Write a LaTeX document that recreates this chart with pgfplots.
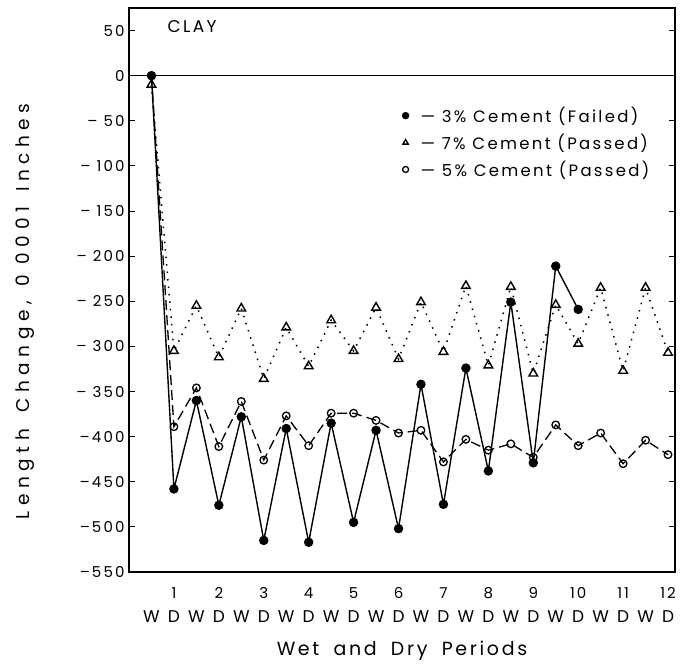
\documentclass[border=0pt]{standalone}
\usepackage{fontspec}
\setmainfont[LetterSpace=14]{Poppins}
\newfontfamily\wideletter[LetterSpace=30]{Poppins}
\usepackage{pgfplots}
\pgfplotsset{compat=1.18}
\usepackage{pgfplotstable}

% Length change of clay-cement specimens over wet/dry cycles (0.0001 in)
\pgfplotstableread{
x y
0.5 0
1 -458
1.5 -360
2 -476
2.5 -378
3 -515
3.5 -391
4 -517
4.5 -385
5 -495
5.5 -393
6 -502
6.5 -342
7 -475
7.5 -324
8 -438
8.5 -251
9 -429
9.5 -211
10 -259
}\cemthree

\pgfplotstableread{
x y
0.5 -10
1 -305
1.5 -255
2 -312
2.5 -258
3 -336
3.5 -279
4 -322
4.5 -271
5 -305
5.5 -257
6 -314
6.5 -251
7 -306
7.5 -233
8 -321
8.5 -234
9 -330
9.5 -254
10 -297
10.5 -235
11 -327
11.5 -235
12 -307
}\cemseven

\pgfplotstableread{
x y
0.5 0
1 -389
1.5 -346
2 -411
2.5 -361
3 -426
3.5 -377
4 -410
4.5 -374
5 -374
5.5 -382
6 -396
6.5 -393
7 -428
7.5 -403
8 -415
8.5 -408
9 -423
9.5 -387
10 -410
10.5 -396
11 -430
11.5 -404
12 -420
}\cemfive

\begin{document}
\begin{tikzpicture}
\begin{axis}[
  scale only axis,
  width=546pt, height=564pt,
  xmin=0, xmax=12.155,
  ymin=-550, ymax=75,
  axis line style={line width=1.1pt},
  every tick/.style={black, line width=1pt},
  tick align=inside,
  major tick length=6pt,
  % wet (W) and dry (D) half-periods
  xtick={0.5,1,1.5,2,2.5,3,3.5,4,4.5,5,5.5,6,6.5,7,7.5,8,8.5,9,9.5,10,10.5,11,11.5,12},
  xticklabels={W,D,W,D,W,D,W,D,W,D,W,D,W,D,W,D,W,D,W,D,W,D,W,D},
  xtick style={draw=none},
  xticklabel style={font=\fontsize{17}{20}\selectfont, anchor=center, yshift=-45pt},
  % cycle numbers above the dry periods
  extra x ticks={1,2,3,4,5,6,7,8,9,10,11,12},
  extra x tick labels={1,2,3,4,5,6,7,8,9,10,11,12},
  extra x tick style={xtick style={draw=none},
     xticklabel style={font=\fontsize{15}{18}\selectfont, yshift=24pt}},
  ytick={-550,-500,-450,-400,-350,-300,-250,-200,-150,-100,-50,0,50},
  yticklabels={{--550},{--500},{--450},{--400},{-- 350},{-- 300},{-- 250},{-- 200},{-- 150},{-- 100},{-- 50},{0},{50}},
  yticklabel style={font=\fontsize{15}{18}\selectfont, xshift=-1pt},
  xlabel={Wet\hspace{0.75em}and\hspace{0.75em}Dry\hspace{0.75em}Periods},
  xlabel style={font=\fontsize{19}{22}\selectfont, at={(axis description cs:0.5,-0.14)}, anchor=center},
  ylabel={Length\hspace{0.9em}Change,\hspace{0.8em}0 0001\hspace{0.8em}Inches},
  ylabel style={font=\wideletter\fontsize{18.5}{22}\selectfont, at={(axis description cs:-0.19,0.462)}, anchor=center},
  legend style={draw=none, fill=none, at={(0.957,0.828)}, anchor=north east,
                font=\fontsize{16.5}{19}\selectfont, row sep=6pt, inner sep=0pt},
  legend cell align=left,
  legend image code/.code={\draw[#1, mark size=3pt] plot coordinates {(0.2cm,0cm)};},
]
% reference line at zero change
\draw[line width=1.1pt] (axis cs:0,0) -- (axis cs:12.155,0);

\addplot[black, line width=1.4pt, mark=*, mark size=4pt,
         mark options={solid, fill=black}] table {\cemthree};
\addlegendentry{\hspace{10pt}--- 3\% Cement (Failed)}

\addplot[black, line width=1.5pt, dash pattern=on 1.5pt off 6pt, mark=triangle, mark size=5pt,
         mark options={solid, line width=1.4pt, fill=white}] table {\cemseven};
\addlegendentry{\hspace{10pt}--- 7\% Cement (Passed)}

\addplot[black, line width=1.3pt, dash pattern=on 10pt off 5pt, mark=o, mark size=3.8pt,
         mark options={solid, line width=1.3pt, fill=white}] table {\cemfive};
\addlegendentry{\hspace{10pt}--- 5\% Cement (Passed)}

\node[anchor=west, font=\fontsize{17}{20}\selectfont] at (axis cs:0.78,54) {CLAY};
\end{axis}
\pgfresetboundingbox
\path ([xshift=-129pt,yshift=-92pt]current axis.south west) rectangle ([xshift=10pt,yshift=8pt]current axis.north east);
\end{tikzpicture}
\end{document}
